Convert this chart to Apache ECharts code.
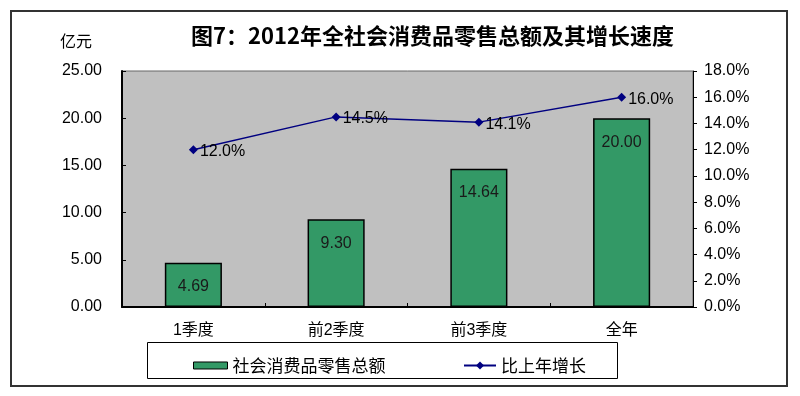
<!DOCTYPE html>
<html>
<head>
<meta charset="utf-8">
<script src="https://cdn.jsdelivr.net/npm/echarts@6/dist/echarts.min.js"></script>
<style>
html,body{margin:0;padding:0;background:#fff;}
#c{width:800px;height:396px;}
</style>
</head>
<body>
<div id="c"></div>
<script>
const categories = ['1季度', '前2季度', '前3季度', '全年'];
const retailSales = [4.69, 9.30, 14.64, 20.00];
const growthRate = [12.0, 14.5, 14.1, 16.0];
const salesName = '社会消费品零售总额';
const growthName = '比上年增长';
const titleText = '图7：2012年全社会消费品零售总额及其增长速度';
const unitText = '亿元';

const FONT = "'Liberation Sans','Noto Sans CJK SC',sans-serif";
const CJK = "'Noto Sans CJK SC','Liberation Sans',sans-serif";

const chart = echarts.init(document.getElementById('c'), null, {renderer: 'canvas'});
chart.setOption({
  animation: false,
  backgroundColor: '#fff',
  title: {
    text: titleText,
    left: 186, top: 20,
    textStyle: {fontFamily: CJK, fontSize: 22, fontWeight: 'bold', color: '#000'}
  },
  graphic: [
    {type: 'rect', shape: {x: 11, y: 11, width: 776, height: 375}, style: {fill: 'none', stroke: '#333', lineWidth: 2}, z: 0},
    {type: 'rect', shape: {x: 147.5, y: 342.5, width: 470, height: 36}, style: {fill: 'none', stroke: '#000', lineWidth: 1}, z: 0},
    {type: 'text', left: 60, top: 33, style: {text: unitText, font: "16px 'Noto Sans CJK SC'", fill: '#000'}}
  ],
  legend: [
    {data: [{name: salesName, icon: 'rect'}], left: 188, top: 352, itemWidth: 34, itemHeight: 7, itemGap: 0,
     itemStyle: {borderColor: '#000', borderWidth: 1},
     textStyle: {fontFamily: CJK, fontSize: 17, color: '#000'}},
    {data: [growthName], left: 458, top: 352, itemWidth: 32, itemHeight: 10, itemGap: 0,
     textStyle: {fontFamily: CJK, fontSize: 17, color: '#000'}}
  ],
  grid: {left: 122, right: 107, top: 71, bottom: 89, show: true, backgroundColor: '#C0C0C0', borderColor: '#666', borderWidth: 1},
  xAxis: {
    type: 'category', data: categories, boundaryGap: true,
    axisLine: {lineStyle: {color: '#000', width: 2}},
    axisTick: {show: true, inside: true, length: 4, lineStyle: {color: '#000'}},
    axisLabel: {fontFamily: FONT, fontSize: 16, color: '#000', margin: 16}
  },
  yAxis: [
    {type: 'value', min: 0, max: 25, interval: 5, position: 'left',
     axisLine: {show: true, lineStyle: {color: '#000', width: 2}},
     axisTick: {show: true, inside: true, length: 4, lineStyle: {color: '#000'}},
     splitLine: {show: false},
     axisLabel: {fontFamily: FONT, fontSize: 16, color: '#000', margin: 20, formatter: v => v.toFixed(2)}},
    {type: 'value', min: 0, max: 18, interval: 2, position: 'right',
     axisLine: {show: true, lineStyle: {color: '#000', width: 1}},
     axisTick: {show: true, inside: false, length: 4, lineStyle: {color: '#000'}},
     splitLine: {show: false},
     axisLabel: {fontFamily: FONT, fontSize: 16, color: '#000', margin: 11, formatter: v => v.toFixed(1) + '%'}}
  ],
  series: [
    {name: salesName, type: 'bar', data: retailSales, yAxisIndex: 0, barWidth: '40%',
     itemStyle: {color: '#339966', borderColor: '#000', borderWidth: 1.5},
     label: {show: true, position: 'insideTop', distance: 16, fontFamily: FONT, fontSize: 16, color: '#1a1a1a',
             formatter: p => p.value.toFixed(2)}},
    {name: growthName, type: 'line', data: growthRate, yAxisIndex: 1,
     symbol: 'diamond', symbolSize: 9,
     lineStyle: {color: '#000080', width: 1.5},
     itemStyle: {color: '#000080'},
     label: {show: true, position: 'right', distance: 2, offset: [0, 2], fontFamily: FONT, fontSize: 16, color: '#000',
             formatter: p => p.value.toFixed(1) + '%'}}
  ]
});
</script>
</body>
</html>
